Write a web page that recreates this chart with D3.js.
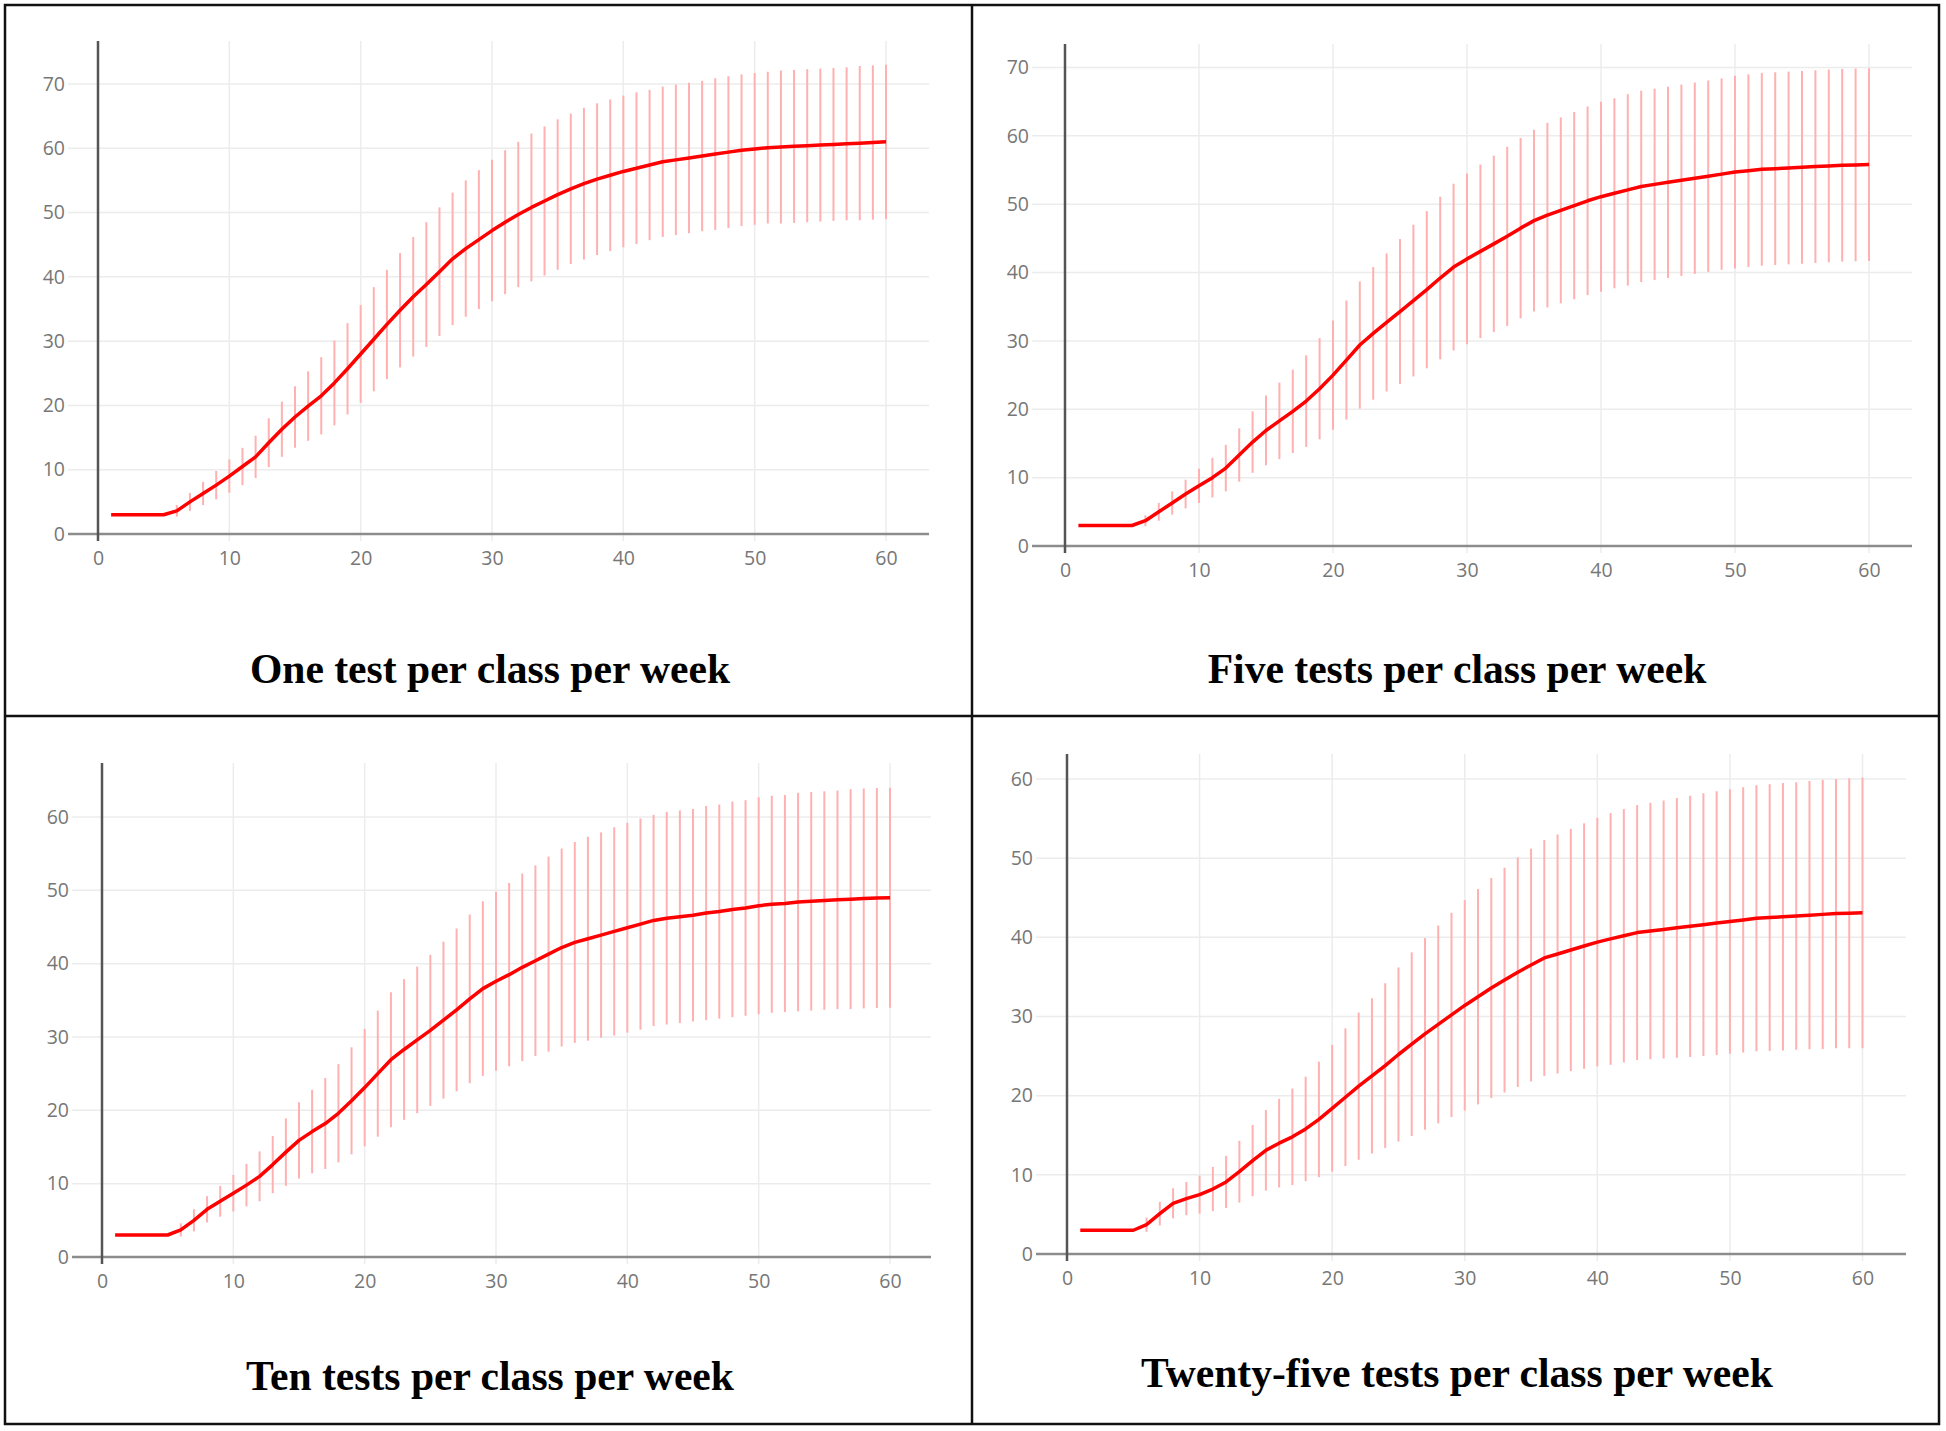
<!DOCTYPE html>
<html>
<head>
<meta charset="utf-8">
<script src="https://cdn.jsdelivr.net/npm/d3@7"></script>
<style>
  html, body { margin: 0; padding: 0; background: #fff; }
  svg { display: block; }
  .tick text { font-family: "Open Sans", sans-serif; font-size: 19.5px; fill: #777; }
</style>
</head>
<body>
<svg id="chart" width="1946" height="1431"></svg>
<script>
// ---------- DATA ----------
const weeks = [1,2,3,4,5,6,7,8,9,10,11,12,13,14,15,16,17,18,19,20,
  21,22,23,24,25,26,27,28,29,30,31,32,33,34,35,36,37,38,39,40,
  41,42,43,44,45,46,47,48,49,50,51,52,53,54,55,56,57,58,59,60];

const xTicks = [0,10,20,30,40,50,60];
const yTicks70 = [0,10,20,30,40,50,60,70];
const yTicks60 = [0,10,20,30,40,50,60];

const titles = [
  "One test per class per week",
  "Five tests per class per week",
  "Ten tests per class per week",
  "Twenty-five tests per class per week"
];

// One test per class per week
const mean1 = [3,3,3,3,3,3.6,5.0,6.3,7.6,9.0,10.5,12.0,14.2,16.3,18.2,19.9,21.5,23.5,25.7,28.0,
  30.3,32.6,34.8,36.9,38.8,40.8,42.8,44.4,45.8,47.2,48.5,49.7,50.8,51.8,52.8,53.7,54.5,55.2,55.8,56.4,
  56.9,57.4,57.9,58.2,58.5,58.8,59.1,59.4,59.7,59.9,60.1,60.2,60.3,60.4,60.5,60.6,60.7,60.8,60.9,61.0];
const err1 = [0,0,0,0,0,0.9,1.4,1.8,2.2,2.6,2.9,3.3,3.8,4.3,4.8,5.4,6.0,6.6,7.1,7.6,
  8.1,8.5,8.9,9.3,9.7,10.0,10.3,10.6,10.8,11.0,11.2,11.3,11.5,11.6,11.7,11.7,11.8,11.8,11.8,11.8,
  11.8,11.7,11.7,11.7,11.7,11.7,11.8,11.8,11.8,11.8,11.8,11.9,11.9,11.9,11.9,11.9,11.9,12.0,12.0,12.0];

// Five tests per class per week
const mean2 = [3,3,3,3,3,3.7,5.0,6.3,7.6,8.8,10.0,11.4,13.3,15.2,16.9,18.3,19.7,21.2,23.0,25.0,
  27.2,29.4,31.1,32.7,34.3,35.9,37.5,39.2,40.8,42.0,43.1,44.2,45.3,46.5,47.6,48.4,49.1,49.8,50.5,51.1,
  51.6,52.1,52.6,52.9,53.2,53.5,53.8,54.1,54.4,54.7,54.9,55.1,55.2,55.3,55.4,55.5,55.6,55.7,55.75,55.8];
const err2 = [0,0,0,0,0,0.8,1.3,1.7,2.1,2.5,2.9,3.4,3.9,4.5,5.1,5.6,6.1,6.7,7.4,8.0,
  8.7,9.3,9.7,10.1,10.6,11.1,11.5,11.9,12.2,12.5,12.7,12.9,13.1,13.2,13.3,13.5,13.6,13.7,13.8,13.9,
  13.9,14.0,14.0,14.0,14.0,14.0,14.0,14.0,14.0,14.1,14.1,14.1,14.1,14.1,14.1,14.1,14.1,14.1,14.1,14.1];

// Ten tests per class per week
const mean3 = [3,3,3,3,3,3.7,5.0,6.5,7.6,8.7,9.8,11.0,12.6,14.3,15.9,17.1,18.2,19.6,21.3,23.1,
  25.0,26.9,28.3,29.6,30.9,32.3,33.7,35.2,36.6,37.6,38.5,39.5,40.4,41.3,42.2,42.9,43.4,43.9,44.4,44.9,
  45.4,45.9,46.2,46.4,46.6,46.9,47.1,47.4,47.6,47.9,48.1,48.2,48.4,48.5,48.6,48.7,48.8,48.9,48.95,49.0];
const err3 = [0,0,0,0,0,0.9,1.5,1.8,2.1,2.5,2.9,3.4,3.9,4.6,5.2,5.7,6.2,6.7,7.3,8.0,
  8.6,9.2,9.6,10.0,10.3,10.7,11.1,11.5,11.9,12.2,12.5,12.8,13.0,13.3,13.5,13.7,13.9,14.0,14.2,14.3,
  14.4,14.4,14.5,14.5,14.5,14.6,14.6,14.7,14.7,14.8,14.8,14.8,14.9,14.9,14.9,14.9,15.0,15.0,15.0,15.0];

// Twenty-five tests per class per week
const mean4 = [3,3,3,3,3,3.7,5.1,6.4,7.0,7.5,8.2,9.1,10.4,11.8,13.1,14.0,14.8,15.8,17.0,18.4,
  19.8,21.2,22.5,23.8,25.2,26.5,27.8,29.0,30.2,31.4,32.5,33.6,34.6,35.6,36.5,37.4,37.9,38.4,38.9,39.4,
  39.8,40.2,40.6,40.8,41.0,41.2,41.4,41.6,41.8,42.0,42.2,42.4,42.5,42.6,42.7,42.8,42.9,43.0,43.05,43.1];
const err4 = [0,0,0,0,0,0.9,1.5,1.9,2.1,2.4,2.8,3.3,3.9,4.5,5.1,5.6,6.1,6.6,7.3,8.0,
  8.7,9.3,9.8,10.4,11.0,11.6,12.1,12.5,12.9,13.3,13.6,13.9,14.2,14.5,14.7,14.9,15.1,15.3,15.5,15.7,
  15.9,16.0,16.1,16.2,16.3,16.4,16.5,16.6,16.65,16.7,16.75,16.8,16.85,16.9,16.9,16.95,17.0,17.0,17.05,17.1];

// ---------- LAYOUT ----------
const layouts = [
  {left: 68,   right: 929,  top: 41,  bottom: 541,  x0: 98,   x60: 886,    y0: 534,  yTopVal: 70, yTopPx: 84,   titleX: 490,  titleY: 683},
  {left: 1032, right: 1912, top: 44,  bottom: 553,  x0: 1065, x60: 1869,   y0: 546,  yTopVal: 70, yTopPx: 67.5, titleX: 1457, titleY: 683},
  {left: 72,   right: 931,  top: 763, bottom: 1264, x0: 102,  x60: 890,    y0: 1257, yTopVal: 60, yTopPx: 817,  titleX: 490,  titleY: 1390},
  {left: 1036, right: 1906, top: 754, bottom: 1261, x0: 1067, x60: 1862.5, y0: 1254, yTopVal: 60, yTopPx: 779,  titleX: 1457, titleY: 1387}
];

const series = [
  {mean: mean1, err: err1, yTicks: yTicks70},
  {mean: mean2, err: err2, yTicks: yTicks70},
  {mean: mean3, err: err3, yTicks: yTicks60},
  {mean: mean4, err: err4, yTicks: yTicks60}
];

const svg = d3.select("#chart");
svg.append("rect").attr("width", 1946).attr("height", 1431).attr("fill", "#fff");

series.forEach((s, i) => {
  const L = layouts[i];
  const x = d3.scaleLinear().domain([0, 60]).range([L.x0, L.x60]);
  const y = d3.scaleLinear().domain([0, L.yTopVal]).range([L.y0, L.yTopPx]);
  const g = svg.append("g");

  // gridlines
  g.append("g").selectAll("line.vg").data(xTicks.filter(d => d !== 0)).join("line")
    .attr("x1", d => x(d)).attr("x2", d => x(d))
    .attr("y1", L.top).attr("y2", L.bottom)
    .attr("stroke", "#ececec").attr("stroke-width", 1.5);
  g.append("g").selectAll("line.hg").data(s.yTicks.filter(d => d !== 0)).join("line")
    .attr("x1", L.left).attr("x2", L.right)
    .attr("y1", d => y(d)).attr("y2", d => y(d))
    .attr("stroke", "#ececec").attr("stroke-width", 1.5);

  // zero lines
  g.append("line")
    .attr("x1", L.left).attr("x2", L.right)
    .attr("y1", y(0)).attr("y2", y(0))
    .attr("stroke", "#8c8c8c").attr("stroke-width", 2.5);
  g.append("line")
    .attr("x1", x(0)).attr("x2", x(0))
    .attr("y1", L.top).attr("y2", L.bottom)
    .attr("stroke", "#555").attr("stroke-width", 2.5);

  // axes (labels only)
  const ya = g.append("g").attr("transform", `translate(${L.left},0)`)
    .call(d3.axisLeft(y).tickValues(s.yTicks).tickSize(0).tickPadding(3));
  ya.select(".domain").remove();
  const xa = g.append("g").attr("transform", `translate(0,${L.bottom})`)
    .call(d3.axisBottom(x).tickValues(xTicks).tickSize(0).tickPadding(10));
  xa.select(".domain").remove();

  // error bars
  const pts = weeks.map((w, k) => ({w, m: s.mean[k], e: s.err[k]}));
  g.append("g").selectAll("line").data(pts.filter(d => d.e > 0)).join("line")
    .attr("x1", d => x(d.w)).attr("x2", d => x(d.w))
    .attr("y1", d => y(d.m - d.e)).attr("y2", d => y(d.m + d.e))
    .attr("stroke", "#ffb1b1").attr("stroke-width", 2);

  // mean line
  g.append("path").datum(pts)
    .attr("fill", "none").attr("stroke", "#ff0000").attr("stroke-width", 3.5)
    .attr("stroke-linejoin", "round")
    .attr("d", d3.line().x(d => x(d.w)).y(d => y(d.m)));

  // title
  g.append("text")
    .attr("x", L.titleX).attr("y", L.titleY)
    .attr("text-anchor", "middle")
    .attr("font-family", "'Liberation Serif', 'Times New Roman', serif")
    .attr("font-weight", "bold").attr("font-size", 41.6).attr("fill", "#000")
    .text(titles[i]);
});

// frame
svg.append("rect").attr("x", 5).attr("y", 5).attr("width", 1934).attr("height", 1419)
  .attr("fill", "none").attr("stroke", "#111").attr("stroke-width", 2.5);
svg.append("line").attr("x1", 972).attr("x2", 972).attr("y1", 5).attr("y2", 1424)
  .attr("stroke", "#111").attr("stroke-width", 2.5);
svg.append("line").attr("x1", 5).attr("x2", 1939).attr("y1", 716).attr("y2", 716)
  .attr("stroke", "#111").attr("stroke-width", 2.5);
</script>
</body>
</html>
